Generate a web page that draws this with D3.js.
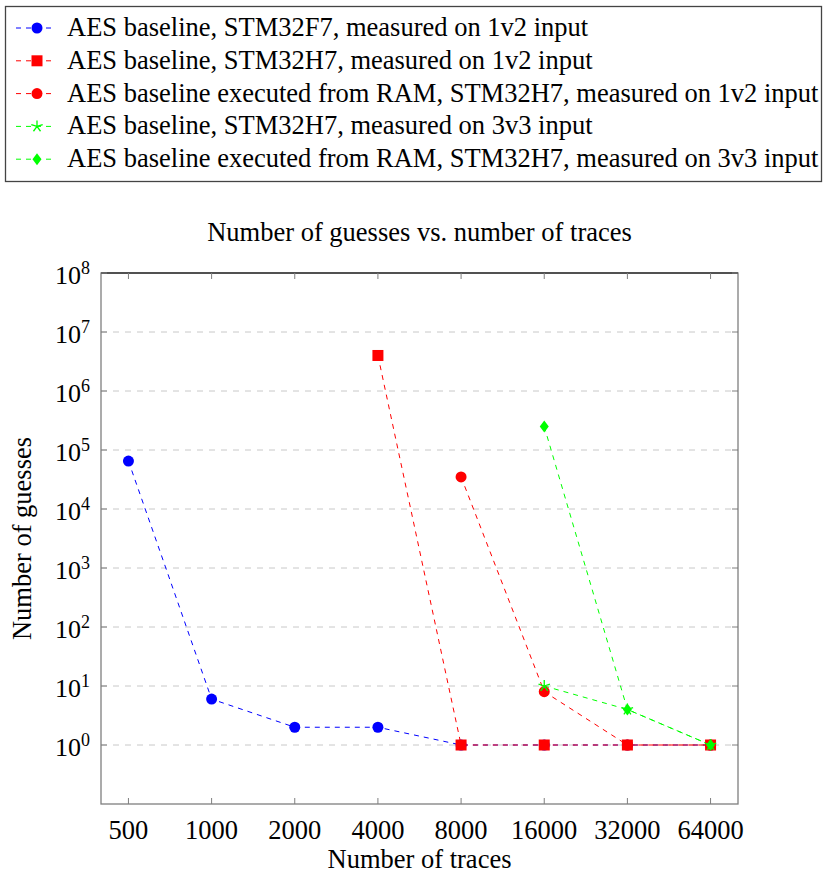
<!DOCTYPE html>
<html>
<head>
<meta charset="utf-8">
<script src="https://cdn.jsdelivr.net/npm/d3@7"></script>
<style>
  body { margin: 0; background: #fff; }
  svg text { font-family: "Liberation Serif", "DejaVu Serif", serif; fill: #000; }
</style>
</head>
<body>
<svg id="chart" width="825" height="873"></svg>
<script>
// data
const traces = ["500", "1000", "2000", "4000", "8000", "16000", "32000", "64000"];
const yTicks = [1, 10, 100, 1000, 10000, 100000, 1000000, 10000000, 100000000];

const f7Flash1v2 = [[500, 65000], [1000, 6], [2000, 2], [4000, 2], [8000, 1], [16000, 1], [32000, 1], [64000, 1]];
const h7Flash1v2 = [[4000, 4000000], [8000, 1], [16000, 1], [32000, 1], [64000, 1]];
const h7Ram1v2 = [[8000, 35000], [16000, 8], [32000, 1], [64000, 1]];
const h7Flash3v3 = [[16000, 10], [32000, 4], [64000, 1]];
const h7Ram3v3 = [[16000, 250000], [32000, 4], [64000, 1]];

const seriesNames = [
  "AES baseline, STM32F7, measured on 1v2 input",
  "AES baseline, STM32H7, measured on 1v2 input",
  "AES baseline executed from RAM, STM32H7, measured on 1v2 input",
  "AES baseline, STM32H7, measured on 3v3 input",
  "AES baseline executed from RAM, STM32H7, measured on 3v3 input"
];
const seriesColors = ["#0000ff", "#ff0000", "#ff0000", "#00ff00", "#00ff00"];
const seriesMarks = ["circle", "square", "circle", "star", "diamond"];
const seriesData = [f7Flash1v2, h7Flash1v2, h7Ram1v2, h7Flash3v3, h7Ram3v3];

const svg = d3.select("#chart");

const plotLeft = 101, plotRight = 738, plotTop = 273, plotBottom = 804;
const fontSize = 26.5;

const x = d3.scalePoint().domain(traces).range([plotLeft, plotRight]).padding(0.33);
const y = d3.scaleLog().domain([0.1, 1e8]).range([plotBottom, plotTop]);

// markers
function drawMark(g, kind, color) {
  if (kind === "circle") {
    g.append("circle").attr("r", 5.5).attr("fill", color);
  } else if (kind === "square") {
    g.append("rect").attr("x", -5.5).attr("y", -5.5).attr("width", 11).attr("height", 11).attr("fill", color);
  } else if (kind === "diamond") {
    g.append("path").attr("d", "M0,-6L4.5,0L0,6L-4.5,0Z").attr("fill", color);
  } else {
    let p = "";
    for (let k = 0; k < 5; k++) {
      const a = -Math.PI / 2 + k * 2 * Math.PI / 5;
      p += `M0,0L${6 * Math.cos(a)},${6 * Math.sin(a)}`;
    }
    g.append("path").attr("d", p).attr("stroke", color).attr("stroke-width", 1.3).attr("fill", "none");
  }
}

// grid
svg.append("g")
  .selectAll("line")
  .data(yTicks.slice(0, -1))
  .enter()
  .append("line")
  .attr("x1", plotLeft).attr("x2", plotRight)
  .attr("y1", (d) => y(d)).attr("y2", (d) => y(d))
  .attr("stroke", "#c8c8c8")
  .attr("stroke-width", 1)
  .attr("stroke-dasharray", "6,6");

// lines + marks
const line = d3.line().x((d) => x(String(d[0]))).y((d) => y(d[1]));
seriesData.forEach((data, i) => {
  svg.append("path")
    .datum(data)
    .attr("d", line)
    .attr("fill", "none")
    .attr("stroke", seriesColors[i])
    .attr("stroke-width", 1)
    .attr("stroke-dasharray", "5,5");
});
seriesData.forEach((data, i) => {
  data.forEach((d) => {
    const g = svg.append("g").attr("transform", `translate(${x(String(d[0]))},${y(d[1])})`);
    drawMark(g, seriesMarks[i], seriesColors[i]);
  });
});

// frame and ticks
const axisColor = "#7f7f7f";
svg.append("rect")
  .attr("x", plotLeft).attr("y", plotTop)
  .attr("width", plotRight - plotLeft).attr("height", plotBottom - plotTop)
  .attr("fill", "none").attr("stroke", axisColor).attr("stroke-width", 1.3);
svg.append("line")
  .attr("x1", plotLeft).attr("x2", plotRight).attr("y1", plotTop).attr("y2", plotTop)
  .attr("stroke", "#333").attr("stroke-width", 1.3);

const ticks = svg.append("g").attr("stroke", axisColor).attr("stroke-width", 1);
traces.forEach((t) => {
  ticks.append("line").attr("x1", x(t)).attr("x2", x(t)).attr("y1", plotBottom).attr("y2", plotBottom - 6);
  ticks.append("line").attr("x1", x(t)).attr("x2", x(t)).attr("y1", plotTop).attr("y2", plotTop + 6);
});
yTicks.forEach((v) => {
  ticks.append("line").attr("x1", plotLeft).attr("x2", plotLeft + 6).attr("y1", y(v)).attr("y2", y(v));
  ticks.append("line").attr("x1", plotRight).attr("x2", plotRight - 6).attr("y1", y(v)).attr("y2", y(v));
});

// tick labels
svg.append("g")
  .selectAll("text")
  .data(traces)
  .enter()
  .append("text")
  .attr("x", (d) => x(d))
  .attr("y", plotBottom + 35)
  .attr("text-anchor", "middle")
  .attr("font-size", fontSize)
  .text((d) => d);

const yLabels = svg.append("g")
  .selectAll("text")
  .data(yTicks)
  .enter()
  .append("text")
  .attr("x", 90)
  .attr("y", (d) => y(d) + 11)
  .attr("text-anchor", "end")
  .attr("font-size", 26);
yLabels.append("tspan").text("10");
yLabels.append("tspan")
  .attr("dy", -10)
  .attr("font-size", 18)
  .text((d) => Math.round(Math.log10(d)));

// titles
svg.append("text")
  .attr("x", (plotLeft + plotRight) / 2).attr("y", 241)
  .attr("text-anchor", "middle").attr("font-size", fontSize)
  .text("Number of guesses vs. number of traces");
svg.append("text")
  .attr("x", (plotLeft + plotRight) / 2).attr("y", 868)
  .attr("text-anchor", "middle").attr("font-size", fontSize)
  .text("Number of traces");
svg.append("text")
  .attr("transform", `translate(31,${(plotTop + plotBottom) / 2}) rotate(-90)`)
  .attr("text-anchor", "middle").attr("font-size", fontSize)
  .text("Number of guesses");

// legend
const legend = svg.append("g");
legend.append("rect")
  .attr("x", 5.5).attr("y", 6.5).attr("width", 816).attr("height", 175)
  .attr("fill", "#fff").attr("stroke", "#444").attr("stroke-width", 1.3);
seriesNames.forEach((name, i) => {
  const cy = 28 + i * 32.8;
  legend.append("line")
    .attr("x1", 15).attr("x2", 56).attr("y1", cy).attr("y2", cy)
    .attr("stroke", seriesColors[i]).attr("stroke-width", 1).attr("stroke-dasharray", "5,5")
    .attr("stroke-dashoffset", -1);
  drawMark(legend.append("g").attr("transform", `translate(37,${cy})`), seriesMarks[i], seriesColors[i]);
  legend.append("text")
    .attr("x", 67).attr("y", cy + 8)
    .attr("font-size", fontSize)
    .text(name);
});
</script>
</body>
</html>
